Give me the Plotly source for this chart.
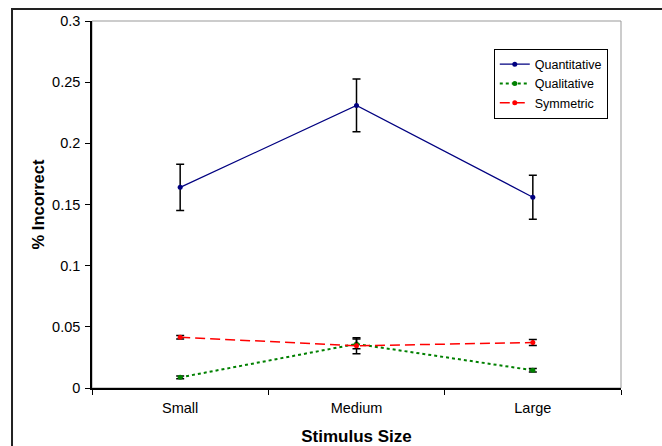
import plotly.graph_objects as go

categories = ["Small", "Medium", "Large"]
quant = [0.164, 0.231, 0.156]
quant_err = [0.019, 0.0215, 0.018]
qual = [0.0087, 0.036, 0.0145]
qual_err = [0.0012, 0.004, 0.0015]
sym = [0.0415, 0.0345, 0.0372]
sym_err = [0.0015, 0.0065, 0.0025]
yticks = [0, 0.05, 0.1, 0.15, 0.2, 0.25, 0.3]
yticklabels = ["0", "0.05", "0.1", "0.15", "0.2", "0.25", "0.3"]

FONT = "Liberation Sans, Arial, sans-serif"

fig = go.Figure()

def add(name, y, err, color, dash, width):
    fig.add_trace(go.Scatter(
        x=categories, y=y, name=name, mode="lines+markers",
        line=dict(color=color, dash=dash, width=width),
        marker=dict(color=color, size=5),
        error_y=dict(type="data", array=err, visible=True, color="black",
                     thickness=1.5, width=4),
    ))

add("Quantitative", quant, quant_err, "#000080", "solid", 1.2)
add("Qualitative", qual, qual_err, "#008000", "3px,3px", 2)
add("Symmetric", sym, sym_err, "#FF0000", "10px,5px", 1.5)

# plot area frame (gray top/right) and outer chart border
fig.add_shape(type="rect", xref="paper", yref="paper", x0=0, x1=1, y0=0, y1=1,
              line=dict(color="#999999", width=1), layer="below")
fig.add_shape(type="rect", xref="paper", yref="paper", x0=-0.1512, x1=1.3,
              y0=-0.4, y1=1.0327, line=dict(color="#222222", width=2), layer="below")

fig.update_layout(
    width=662, height=446,
    margin=dict(l=92, r=41, t=21, b=58),
    paper_bgcolor="white", plot_bgcolor="white",
    font=dict(family=FONT, size=14.5, color="black"),
    showlegend=True,
    legend=dict(x=0.975, y=0.925, xanchor="right", yanchor="top",
                bordercolor="black", borderwidth=1, bgcolor="white",
                font=dict(size=12.5, family=FONT), tracegroupgap=0,
                itemwidth=30),
    xaxis=dict(type="category", range=[-0.5, 2.5], showline=True, linecolor="black",
               linewidth=1.5, ticks="outside", ticklen=5, tickcolor="black",
               tickson="boundaries", showgrid=False, zeroline=False, automargin=False,
               tickfont=dict(size=14.5), ticklabelstandoff=6,
               title=dict(text="<b>Stimulus Size</b>", font=dict(size=17), standoff=20)),
    yaxis=dict(range=[0, 0.3], tickvals=yticks, ticktext=yticklabels, showline=True,
               linecolor="black", linewidth=1.5, ticks="outside", ticklen=5,
               tickcolor="black", showgrid=False, zeroline=False, automargin=False,
               tickfont=dict(size=14.5), ticklabelstandoff=2,
               title=dict(text="<b>% Incorrect</b>", font=dict(size=16.5), standoff=3)),
)

fig.write_html("out.html")
